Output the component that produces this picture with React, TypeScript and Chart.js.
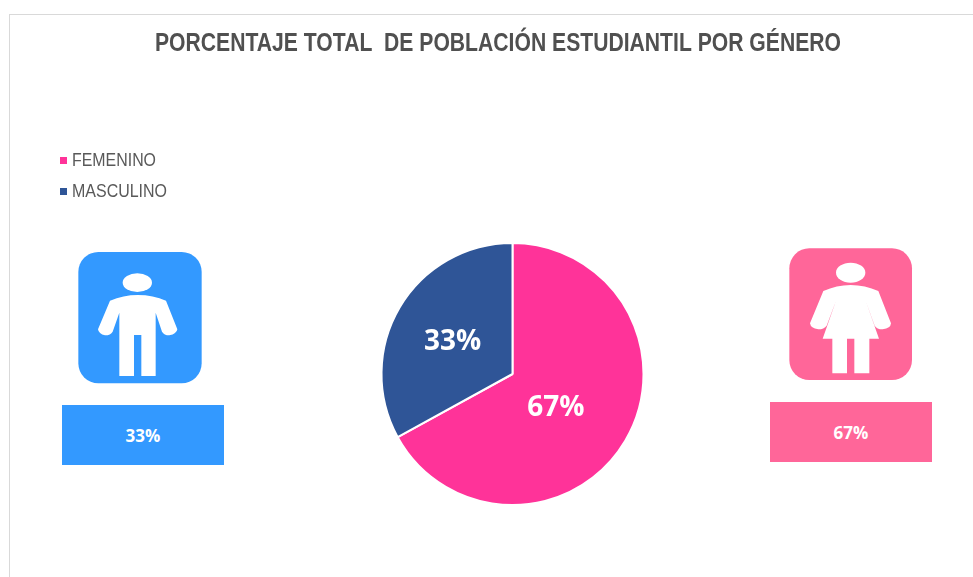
import React, { useEffect, useRef } from "react";
import { Chart, registerables } from "chart.js";

Chart.register(...registerables);

const titleText = "PORCENTAJE TOTAL  DE POBLACIÓN ESTUDIANTIL POR GÉNERO";
const categories = ["FEMENINO", "MASCULINO"];
const values = [67, 33];
const sliceColors = ["#FF3399", "#2F5597"];
const labelOffsets = [[-13, 1], [-3.5, 1]];

const textPlugin = {
  id: "textPlugin",
  afterDraw(chart: any) {
    const ctx = chart.ctx;
    const meta = chart.getDatasetMeta(0);
    ctx.save();
    ctx.textAlign = "center";
    ctx.textBaseline = "middle";
    ctx.fillStyle = "#505050";
    ctx.font = "bold 25px 'Liberation Sans'";
    ctx.fillText(titleText, 498, 44, 686);
    ctx.fillStyle = "#FFFFFF";
    ctx.font = "bold 28px 'Open Sans'";
    meta.data.forEach((arc: any, i: number) => {
      const p = arc.getCenterPoint();
      ctx.fillText(`${values[i]}%`, p.x + labelOffsets[i][0], p.y + labelOffsets[i][1]);
    });
    ctx.textAlign = "left";
    categories.forEach((c, i) => {
      const y = 160 + i * 31;
      ctx.fillStyle = sliceColors[i];
      ctx.fillRect(60, y - 3, 7, 7);
      ctx.fillStyle = "#595959";
      ctx.font = "17.5px 'Liberation Sans'";
      ctx.fillText(c, 72, y + 1.5, c.length === 8 ? 84 : 95);
    });
    ctx.restore();
  },
};

const abs = (l: number, t: number, w: number, h: number): React.CSSProperties => ({
  position: "absolute", left: l, top: t, width: w, height: h,
});

const boxText: React.CSSProperties = {
  display: "flex", alignItems: "center", justifyContent: "center",
  color: "#fff", fontFamily: "'Open Sans'", fontWeight: 700, fontSize: 17,
};

export default function App() {
  const ref = useRef<HTMLCanvasElement>(null);
  useEffect(() => {
    document.body.style.margin = "0";
    const chart = new Chart(ref.current!, {
      type: "pie",
      data: {
        labels: categories,
        datasets: [{ data: values, backgroundColor: sliceColors, borderColor: "#FFFFFF", borderWidth: 2 }],
      },
      options: {
        responsive: false,
        animation: false,
        layout: { padding: { left: 380, right: 328, top: 242, bottom: 71 } },
        plugins: {
          legend: { display: false },
          tooltip: { enabled: false },
          title: { display: false },
        },
      },
      plugins: [textPlugin],
    } as any);
    return () => chart.destroy();
  }, []);
  return (
    <div style={{ position: "relative", width: 973, height: 577, overflow: "hidden", background: "#fff" }}>
      <div style={{ ...abs(9, 14, 964, 563), boxSizing: "border-box", borderTop: "1.5px solid #D9D9D9", borderLeft: "1.5px solid #D9D9D9" }} />
      <div style={{ ...abs(62, 405, 162, 60), background: "#3399FF", ...boxText }}>{values[1]}%</div>
      <div style={{ ...abs(770, 402, 162, 60), background: "#FF6699", ...boxText }}>{values[0]}%</div>
      <svg style={abs(40, 230, 200, 245)} viewBox="0 0 600 735">
        <rect x="115" y="66" width="370" height="394" rx="60" fill="#3399FF" />
        <ellipse cx="292" cy="158" rx="44" ry="28" fill="#fff" />
        <path fill="#fff" d="M210 212 Q250 195 293 195 Q340 195 378 212 L412 298 Q410 312 388 316 Q372 316 366 305 L347 248 L347 438 L304 438 L304 315 L282 315 L282 438 L238 438 L238 248 L218 305 Q212 316 195 316 Q176 312 174 298 Z" />
      </svg>
      <svg style={abs(760, 235, 190, 235)} viewBox="0 0 570 705">
        <rect x="88" y="40" width="368" height="395" rx="60" fill="#FF6699" />
        <ellipse cx="272" cy="113" rx="44" ry="30" fill="#fff" />
        <path fill="#fff" d="M190 168 Q230 150 272 150 Q315 150 355 168 L393 265 Q392 280 368 283 Q350 283 344 272 L317 197 L357 311 L328 311 L328 415 L283 415 L283 311 L261 311 L261 415 L217 415 L217 311 L188 311 L228 197 L200 272 Q192 283 175 283 Q152 280 150 265 Z" />
      </svg>
      <canvas ref={ref} width={973} height={577} style={{ position: "absolute", left: 0, top: 0 }} />
    </div>
  );
}
